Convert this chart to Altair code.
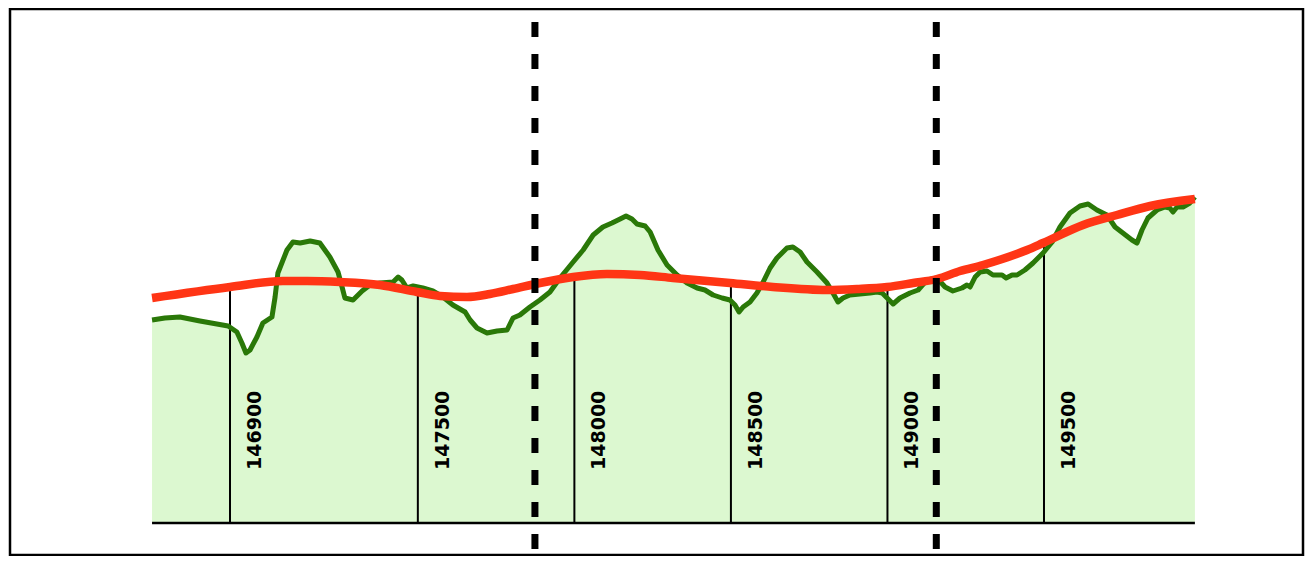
import altair as alt
import pandas as pd

# Ground profile (station in m, elevation in m)
profile_station = [
    146651, 146692, 146740, 146804, 146858, 146894, 146922, 146938, 146951, 146964,
    146986, 147005, 147034, 147044, 147053, 147082, 147101, 147124, 147156, 147187,
    147219, 147245, 147258, 147267, 147293, 147322, 147347, 147379, 147421, 147437,
    147449, 147465, 147485, 147516, 147548, 147580, 147612, 147651, 147667, 147689,
    147721, 147753, 147785, 147804, 147826, 147858, 147890, 147922, 147954, 147996,
    148028, 148060, 148091, 148120, 148146, 148165, 148184, 148200, 148226, 148242,
    148267, 148296, 148328, 148360, 148392, 148417, 148443, 148472, 148497, 148513,
    148526, 148539, 148561, 148583, 148603, 148625, 148647, 148679, 148698, 148721,
    148743, 148775, 148807, 148826, 148842, 148858, 148880, 148912, 148944, 148967,
    148983, 148999, 149018, 149040, 149072, 149098, 149126, 149158, 149184, 149209,
    149238, 149254, 149264, 149280, 149296, 149318, 149337, 149366, 149379, 149398,
    149414, 149439, 149465, 149497, 149526, 149551, 149583, 149615, 149641, 149669,
    149701, 149727, 149752, 149781, 149797, 149813, 149832, 149861, 149887, 149902,
    149912, 149925, 149944, 149966, 149982,
]
profile_elev = [
    220.3, 220.5, 220.6, 220.2, 219.9, 219.7, 219.1, 218.0, 217.0, 217.3,
    218.6, 220.0, 220.6, 222.6, 225.0, 227.3, 228.1, 228.0, 228.2, 228.0,
    226.6, 225.1, 223.6, 222.5, 222.3, 223.2, 223.8, 224.0, 224.1, 224.6,
    224.3, 223.5, 223.7, 223.5, 223.2, 222.6, 221.8, 221.1, 220.3, 219.5,
    219.0, 219.2, 219.3, 220.5, 220.8, 221.6, 222.3, 223.1, 224.5, 226.1,
    227.3, 228.8, 229.6, 230.0, 230.4, 230.7, 230.4, 229.9, 229.7, 229.1,
    227.3, 225.8, 224.8, 224.0, 223.5, 223.3, 222.8, 222.5, 222.3, 221.8,
    221.1, 221.6, 222.1, 223.0, 224.1, 225.5, 226.5, 227.5, 227.6, 227.1,
    226.1, 225.1, 224.0, 223.0, 222.1, 222.5, 222.8, 222.9, 223.0, 223.1,
    223.0, 222.5, 221.9, 222.5, 223.0, 223.3, 224.3, 224.5, 223.6, 223.2,
    223.5, 223.8, 223.6, 224.6, 225.1, 225.2, 224.8, 224.8, 224.5, 224.8,
    224.8, 225.3, 226.0, 227.0, 228.1, 229.6, 231.0, 231.7, 231.9, 231.3,
    230.8, 229.6, 229.0, 228.3, 228.0, 229.3, 230.5, 231.3, 231.6, 231.5,
    231.1, 231.6, 231.6, 232.0, 232.6,
]

# Design grade line
grade_station = [
    146651, 146900, 147069, 147146, 147251, 147379, 147497, 147571, 147657, 147730,
    147804, 147890, 147996, 148104, 148210, 148315, 148497, 148634, 148807, 148903,
    148999, 149082, 149158, 149232, 149305, 149446, 149497, 149625, 149733, 149839,
    149982,
]
grade_elev = [
    222.5, 223.6, 224.2, 224.2, 224.1, 223.8, 223.1, 222.7, 222.6, 222.9,
    223.4, 224.0, 224.6, 224.9, 224.8, 224.5, 224.0, 223.6, 223.3, 223.4,
    223.6, 224.0, 224.4, 225.2, 225.8, 227.3, 228.0, 229.8, 230.8, 231.7,
    232.4,
]

# Station markers
label_station = [146900, 147500, 148000, 148500, 149000, 149500]
label_grade = [223.6, 223.1, 224.6, 224.0, 223.6, 228.0]
label_text = ["146900", "147500", "148000", "148500", "149000", "149500"]

# Dashed section boundaries
marker_station = [147874, 149156]

base_elev = 200.0

prof = pd.DataFrame({"station": profile_station, "elev": profile_elev})
grade = pd.DataFrame({"station": grade_station, "elev": grade_elev})
labels = pd.DataFrame({"station": label_station, "grade": label_grade, "label": label_text})
markers = pd.DataFrame({"station": marker_station})
base = pd.DataFrame({"start": [profile_station[0]], "end": [profile_station[-1]], "elev": [base_elev]})

x_scale = alt.Scale(domain=[146197.3, 150327.3], nice=False, zero=False)
y_scale = alt.Scale(domain=[196.8, 251.4], nice=False, zero=False)


def X(field):
    return alt.X(field, type="quantitative", scale=x_scale, axis=None)


def Y(field):
    return alt.Y(field, type="quantitative", scale=y_scale, axis=None)


area = alt.Chart(prof).mark_area(color="#dcf8d0", opacity=1).encode(
    x=X("station"), y=Y("elev"), y2=alt.datum(base_elev)
)

station_lines = alt.Chart(labels).mark_rule(color="black", strokeWidth=2).encode(
    x=X("station"), y=Y("grade"), y2=alt.datum(base_elev)
)

baseline = alt.Chart(base).mark_rule(color="black", strokeWidth=2.5).encode(
    x=X("start"), x2="end:Q", y=Y("elev")
)

ground = alt.Chart(prof).mark_line(color="#2a7808", strokeWidth=5, strokeJoin="round").encode(
    x=X("station"), y=Y("elev")
)

grade_line = alt.Chart(grade).mark_line(color="#ff3515", strokeWidth=8.5, interpolate="monotone").encode(
    x=X("station"), y=Y("elev")
)

dashed = alt.Chart(markers).mark_rule(color="black", strokeWidth=7, strokeDash=[15, 17]).encode(
    x=X("station"), y=alt.value(13), y2=alt.value(541)
)

text = alt.Chart(labels).mark_text(
    angle=270, align="left", baseline="middle", dy=25,
    font="DejaVu Sans", fontSize=19, fontWeight="bold", color="black"
).encode(x=X("station"), y=alt.value(461), text="label:N")

chart = alt.layer(area, station_lines, baseline, ground, grade_line, dashed, text).properties(
    width=1293, height=546,
    padding={"left": 2, "top": 1, "right": 2, "bottom": 1},
    autosize=alt.AutoSizeParams(type="none"),
).configure_view(stroke="black", strokeWidth=2.5)

chart.save("out.html", embed_options={"renderer": "svg", "actions": False})
